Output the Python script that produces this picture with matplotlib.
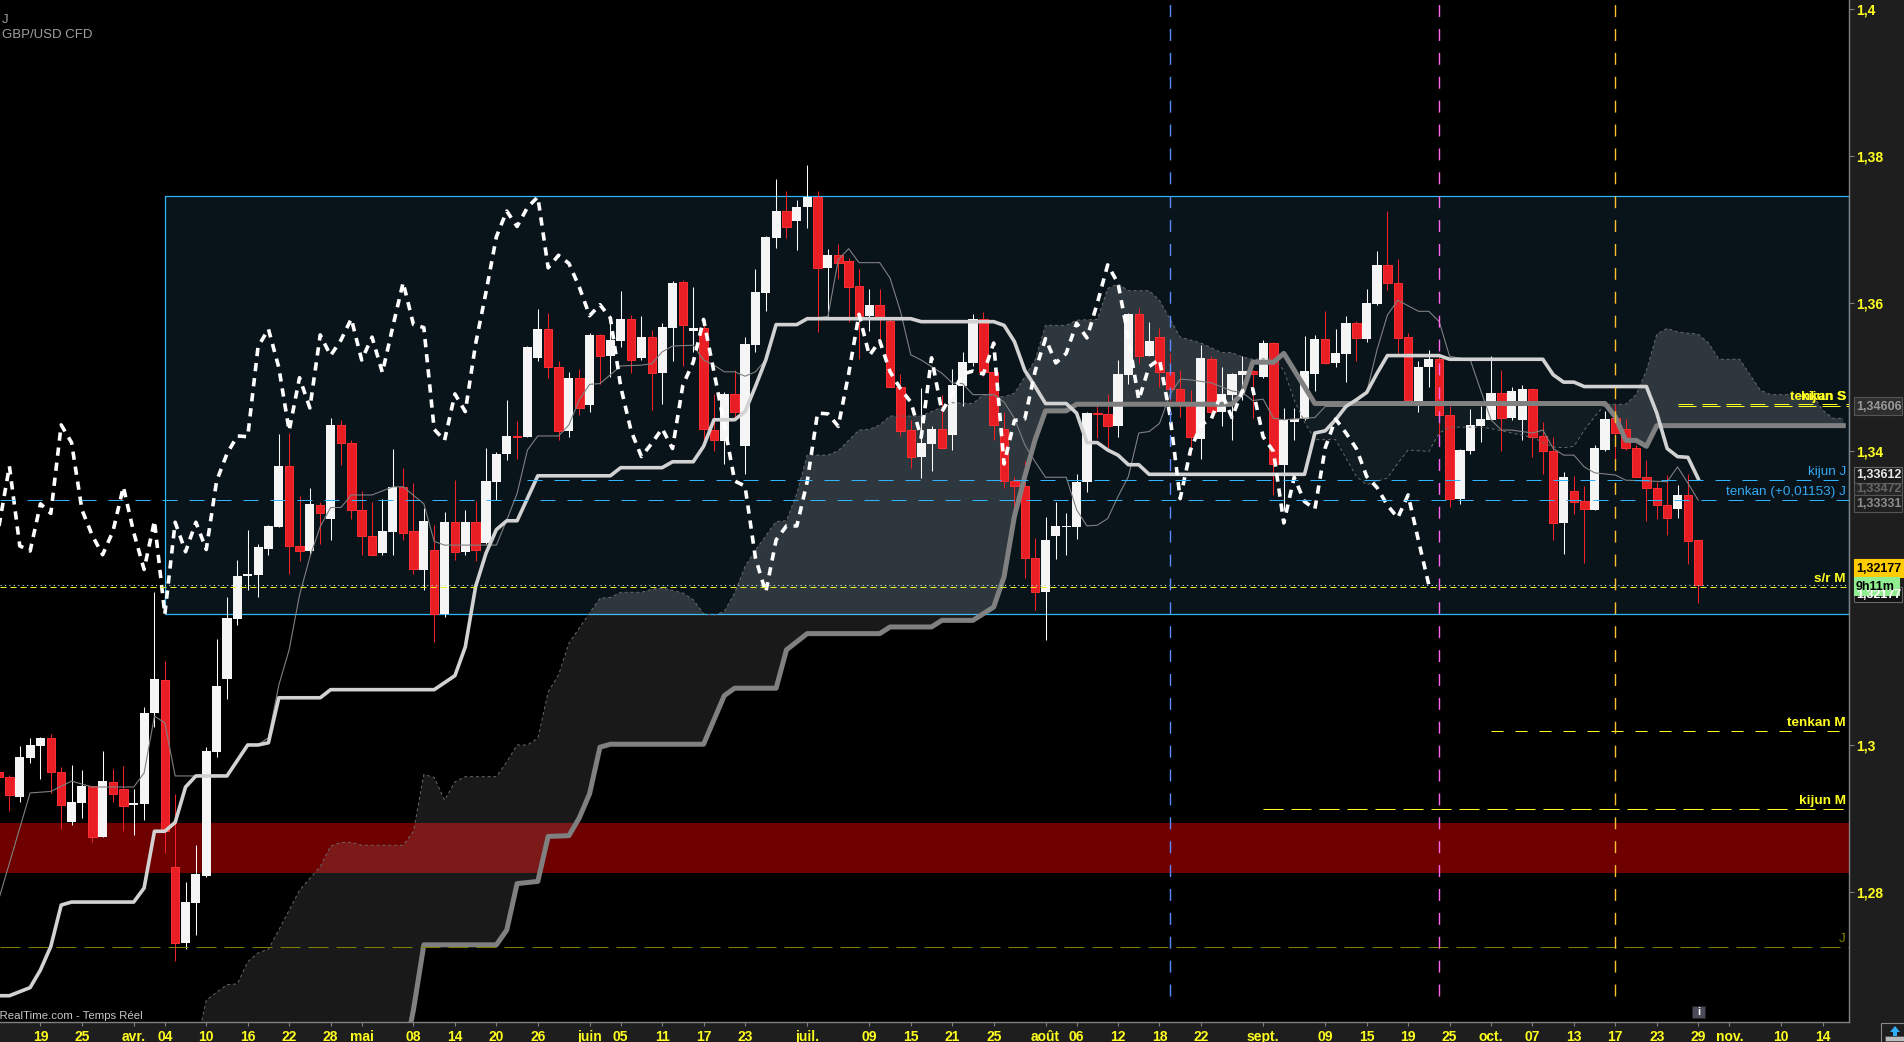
import numpy as np
import matplotlib
matplotlib.use("Agg")
import matplotlib.pyplot as plt
from matplotlib.patches import Rectangle, Polygon

plt.rcParams['font.family'] = ['Liberation Sans', 'DejaVu Sans']

# daily candles, first bar is index -1
opens = [1.2963, 1.2956, 1.2929, 1.2983, 1.2999, 1.3009, 1.2964, 1.2895, 1.2921, 1.2944,
         1.2875, 1.2950, 1.2940, 1.2919, 1.2920, 1.3043, 1.3088, 1.2835, 1.2732, 1.2786,
         1.2823, 1.2990, 1.3089, 1.3171, 1.3229, 1.3230, 1.3266, 1.3296, 1.3378, 1.3270,
         1.3263, 1.3326, 1.3306, 1.3434, 1.3410, 1.3319, 1.3284, 1.3260, 1.3289, 1.3350,
         1.3290, 1.3237, 1.3265, 1.3177, 1.3302, 1.3262, 1.3302, 1.3274, 1.3357, 1.3394,
         1.3419, 1.3418, 1.3525, 1.3564, 1.3512, 1.3426, 1.3498, 1.3461, 1.3556, 1.3528,
         1.3548, 1.3578, 1.3525, 1.3553, 1.3505, 1.3566, 1.3628, 1.3561, 1.3566, 1.3427,
         1.3412, 1.3476, 1.3405, 1.3542, 1.3613, 1.3687, 1.3724, 1.3711, 1.3729, 1.3743,
         1.3647, 1.3664, 1.3656, 1.3622, 1.3582, 1.3596, 1.3575, 1.3486, 1.3427, 1.3391,
         1.3408, 1.3429, 1.3420, 1.3487, 1.3518, 1.3577, 1.3506, 1.3429, 1.3358, 1.3351,
         1.3254, 1.3207, 1.3283, 1.3296, 1.3296, 1.3356, 1.3450, 1.3449, 1.3432, 1.3502,
         1.3584, 1.3528, 1.3553, 1.3506, 1.3483, 1.3465, 1.3415, 1.3523, 1.3452, 1.3475,
         1.3502, 1.3507, 1.3499, 1.3545, 1.3380, 1.3438, 1.3442, 1.3503, 1.3551, 1.3518,
         1.3530, 1.3572, 1.3550, 1.3598, 1.3651, 1.3627, 1.3553, 1.3466, 1.3512, 1.3523,
         1.3448, 1.3334, 1.3398, 1.3432, 1.3441, 1.3477, 1.3444, 1.3441, 1.3483, 1.3419,
         1.3399, 1.3301, 1.3345, 1.3331, 1.3319, 1.3400, 1.3443, 1.3429, 1.3402, 1.3364,
         1.3349, 1.3325, 1.3320, 1.3339, 1.3278]
highs = [1.2965, 1.2959, 1.2999, 1.3010, 1.3011, 1.3015, 1.2970, 1.2973, 1.2966, 1.2945,
         1.2992, 1.2967, 1.2972, 1.2940, 1.3051, 1.3207, 1.3114, 1.2933, 1.2814, 1.2864,
         1.2997, 1.3144, 1.3201, 1.3251, 1.3292, 1.3273, 1.3298, 1.3421, 1.3423, 1.3338,
         1.3348, 1.3330, 1.3443, 1.3441, 1.3413, 1.3344, 1.3329, 1.3334, 1.3401, 1.3375,
         1.3355, 1.3321, 1.3298, 1.3316, 1.3359, 1.3319, 1.3331, 1.3403, 1.3397, 1.3468,
         1.3439, 1.3541, 1.3591, 1.3586, 1.3520, 1.3506, 1.3510, 1.3558, 1.3557, 1.3579,
         1.3616, 1.3583, 1.3581, 1.3563, 1.3572, 1.3629, 1.3630, 1.3621, 1.3577, 1.3476,
         1.3478, 1.3509, 1.3553, 1.3646, 1.3690, 1.3768, 1.3751, 1.3739, 1.3786, 1.3751,
         1.3673, 1.3679, 1.3660, 1.3645, 1.3618, 1.3618, 1.3578, 1.3503, 1.3440, 1.3484,
         1.3433, 1.3475, 1.3510, 1.3533, 1.3585, 1.3587, 1.3511, 1.3452, 1.3363, 1.3385,
         1.3280, 1.3309, 1.3330, 1.3315, 1.3367, 1.3451, 1.3459, 1.3476, 1.3522, 1.3586,
         1.3593, 1.3573, 1.3565, 1.3531, 1.3508, 1.3481, 1.3542, 1.3527, 1.3513, 1.3504,
         1.3528, 1.3508, 1.3549, 1.3547, 1.3457, 1.3457, 1.3554, 1.3556, 1.3589, 1.3564,
         1.3582, 1.3575, 1.3618, 1.3670, 1.3724, 1.3659, 1.3558, 1.3520, 1.3536, 1.3527,
         1.3460, 1.3401, 1.3456, 1.3459, 1.3527, 1.3508, 1.3486, 1.3488, 1.3484, 1.3438,
         1.3417, 1.3370, 1.3365, 1.3351, 1.3407, 1.3453, 1.3463, 1.3442, 1.3407, 1.3386,
         1.3357, 1.3366, 1.3353, 1.3368, 1.3278]
lows = [1.2956, 1.2910, 1.2922, 1.2976, 1.2954, 1.2935, 1.2886, 1.2891, 1.2901, 1.2869,
        1.2875, 1.2922, 1.2884, 1.2878, 1.2898, 1.3025, 1.2853, 1.2707, 1.2723, 1.2742,
        1.2821, 1.2984, 1.3062, 1.3162, 1.3210, 1.3201, 1.3257, 1.3296, 1.3232, 1.3249,
        1.3257, 1.3273, 1.3278, 1.3379, 1.3307, 1.3258, 1.3258, 1.3258, 1.3258, 1.3278,
        1.3232, 1.3210, 1.3139, 1.3173, 1.3251, 1.3258, 1.3249, 1.3273, 1.3332, 1.3386,
        1.3388, 1.3417, 1.3521, 1.3498, 1.3413, 1.3417, 1.3447, 1.3452, 1.3490, 1.3499,
        1.3539, 1.3505, 1.3522, 1.3454, 1.3462, 1.3521, 1.3514, 1.3533, 1.3413, 1.3399,
        1.3381, 1.3443, 1.3367, 1.3533, 1.3588, 1.3674, 1.3688, 1.3671, 1.3701, 1.3560,
        1.3581, 1.3632, 1.3573, 1.3523, 1.3561, 1.3549, 1.3485, 1.3419, 1.3376, 1.3362,
        1.3371, 1.3401, 1.3400, 1.3460, 1.3514, 1.3500, 1.3414, 1.3348, 1.3319, 1.3227,
        1.3183, 1.3142, 1.3252, 1.3258, 1.3279, 1.3343, 1.3416, 1.3402, 1.3418, 1.3490,
        1.3518, 1.3527, 1.3486, 1.3466, 1.3445, 1.3395, 1.3388, 1.3447, 1.3433, 1.3414,
        1.3468, 1.3444, 1.3498, 1.3339, 1.3319, 1.3414, 1.3441, 1.3480, 1.3517, 1.3512,
        1.3492, 1.3521, 1.3547, 1.3596, 1.3617, 1.3532, 1.3466, 1.3451, 1.3485, 1.3419,
        1.3322, 1.3327, 1.3395, 1.3411, 1.3441, 1.3399, 1.3441, 1.3414, 1.3391, 1.3368,
        1.3278, 1.3259, 1.3313, 1.3247, 1.3318, 1.3399, 1.3386, 1.3400, 1.3363, 1.3304,
        1.3307, 1.3285, 1.3308, 1.3245, 1.3193]
closes = [1.2956, 1.2932, 1.2984, 1.3000, 1.3010, 1.2964, 1.2919, 1.2922, 1.2944, 1.2875,
          1.2951, 1.2934, 1.2917, 1.2921, 1.3044, 1.3089, 1.2884, 1.2732, 1.2787, 1.2825,
          1.2992, 1.3080, 1.3172, 1.3229, 1.3232, 1.3268, 1.3297, 1.3378, 1.3270, 1.3263,
          1.3327, 1.3314, 1.3434, 1.3410, 1.3319, 1.3284, 1.3258, 1.3290, 1.3350, 1.3288,
          1.3238, 1.3304, 1.3177, 1.3302, 1.3262, 1.3302, 1.3265, 1.3358, 1.3395, 1.3419,
          1.3418, 1.3540, 1.3564, 1.3512, 1.3426, 1.3498, 1.3457, 1.3556, 1.3528, 1.3549,
          1.3578, 1.3522, 1.3553, 1.3505, 1.3567, 1.3627, 1.3570, 1.3566, 1.3428, 1.3413,
          1.3476, 1.3452, 1.3544, 1.3614, 1.3689, 1.3724, 1.3703, 1.3729, 1.3743, 1.3647,
          1.3664, 1.3653, 1.3621, 1.3582, 1.3597, 1.3579, 1.3486, 1.3426, 1.3391, 1.3409,
          1.3429, 1.3402, 1.3488, 1.3519, 1.3577, 1.3506, 1.3434, 1.3358, 1.3351, 1.3254,
          1.3207, 1.3278, 1.3297, 1.3297, 1.3357, 1.3450, 1.3449, 1.3432, 1.3503, 1.3584,
          1.3528, 1.3548, 1.3506, 1.3483, 1.3465, 1.3417, 1.3525, 1.3452, 1.3476, 1.3503,
          1.3507, 1.3503, 1.3545, 1.3381, 1.3440, 1.3442, 1.3507, 1.3551, 1.3518, 1.3531,
          1.3572, 1.3552, 1.3599, 1.3651, 1.3626, 1.3552, 1.3468, 1.3513, 1.3523, 1.3448,
          1.3334, 1.3400, 1.3434, 1.3442, 1.3477, 1.3444, 1.3480, 1.3483, 1.3418, 1.3398,
          1.3301, 1.3363, 1.3330, 1.3320, 1.3403, 1.3442, 1.3423, 1.3402, 1.3364, 1.3349,
          1.3325, 1.3308, 1.3339, 1.3277, 1.3217]

# ichimoku lines, (bar, price) at each bend
kijun_x = [-1, 0, 2, 3, 4, 5, 6, 12, 13, 14, 15, 16, 17, 18, 21, 23, 24, 25, 26, 30, 31, 41, 43, 44, 45, 46,
           47, 48, 49, 51, 58, 59, 63, 64, 66, 67, 68, 70, 71, 72, 73, 74, 76, 77, 87, 88, 95, 96, 97, 98,
           99, 100, 102, 103, 104, 105, 106, 107, 108, 109, 110, 125, 126, 127, 128, 129, 130, 131, 132,
           133, 138, 139, 148, 149, 150, 151, 152, 158, 159, 160, 161, 162, 163]
kijun_p = [1.2660, 1.2660, 1.2671, 1.2695, 1.2727, 1.2783, 1.2787, 1.2787, 1.2806, 1.2883, 1.2883, 1.2895,
           1.2943, 1.2958, 1.2958, 1.3000, 1.3000, 1.3003, 1.3064, 1.3064, 1.3075, 1.3075, 1.3094, 1.3133,
           1.3215, 1.3260, 1.3292, 1.3304, 1.3304, 1.3365, 1.3365, 1.3376, 1.3376, 1.3384, 1.3384, 1.3405,
           1.3441, 1.3441, 1.3452, 1.3486, 1.3522, 1.3570, 1.3570, 1.3578, 1.3578, 1.3574, 1.3574, 1.3569,
           1.3547, 1.3508, 1.3486, 1.3463, 1.3463, 1.3450, 1.3410, 1.3410, 1.3400, 1.3393, 1.3380, 1.3380,
           1.3367, 1.3367, 1.3423, 1.3426, 1.3441, 1.3459, 1.3468, 1.3478, 1.3504, 1.3528, 1.3528, 1.3523,
           1.3523, 1.3502, 1.3492, 1.3492, 1.3486, 1.3486, 1.3450, 1.3402, 1.3391, 1.3390, 1.3361]

tenkan_x = [-1, 2, 4, 6, 8, 12, 13, 14, 15, 16, 21, 23, 24, 25, 26, 27, 28, 29, 30, 31, 32, 33, 35, 37, 38,
            40, 41, 42, 47, 48, 49, 50, 51, 53, 54, 55, 56, 57, 59, 61, 62, 63, 64, 66, 67, 68, 69, 70, 71,
            72, 73, 74, 76, 77, 79, 80, 81, 82, 84, 85, 86, 87, 88, 89, 90, 91, 92, 93, 95, 96, 97, 98, 99,
            100, 102, 103, 104, 105, 106, 107, 108, 109, 110, 111, 112, 113, 114, 116, 118, 119, 120, 121,
            122, 123, 124, 126, 127, 129, 130, 131, 132, 133, 134, 136, 137, 138, 139, 141, 142, 143, 144,
            145, 147, 148, 149, 150, 151, 152, 153, 155, 156, 158, 160, 161, 162, 163]
tenkan_p = [1.2792, 1.2935, 1.2937, 1.2951, 1.2943, 1.2943, 1.2962, 1.3039, 1.3030, 1.2958, 1.2958, 1.3000,
            1.3000, 1.3010, 1.3081, 1.3129, 1.3203, 1.3255, 1.3296, 1.3322, 1.3322, 1.3339, 1.3339, 1.3350,
            1.3350, 1.3327, 1.3276, 1.3271, 1.3271, 1.3305, 1.3341, 1.3400, 1.3419, 1.3419, 1.3434, 1.3468,
            1.3489, 1.3490, 1.3514, 1.3515, 1.3517, 1.3533, 1.3541, 1.3542, 1.3522, 1.3515, 1.3506, 1.3506,
            1.3500, 1.3506, 1.3522, 1.3570, 1.3570, 1.3578, 1.3581, 1.3658, 1.3673, 1.3654, 1.3654, 1.3633,
            1.3588, 1.3529, 1.3522, 1.3513, 1.3504, 1.3491, 1.3490, 1.3475, 1.3475, 1.3465, 1.3443, 1.3407,
            1.3384, 1.3363, 1.3363, 1.3319, 1.3297, 1.3298, 1.3307, 1.3337, 1.3364, 1.3423, 1.3425, 1.3436,
            1.3475, 1.3496, 1.3495, 1.3491, 1.3480, 1.3478, 1.3467, 1.3469, 1.3443, 1.3441, 1.3442, 1.3444,
            1.3459, 1.3459, 1.3468, 1.3478, 1.3536, 1.3583, 1.3603, 1.3588, 1.3588, 1.3574, 1.3527, 1.3522,
            1.3481, 1.3441, 1.3427, 1.3427, 1.3423, 1.3427, 1.3402, 1.3393, 1.3393, 1.3377, 1.3369, 1.3366,
            1.3359, 1.3358, 1.3357, 1.3377, 1.3355, 1.3332]

senkou_b_x = [18, 38, 39, 40, 47, 48, 49, 51, 52, 54, 55, 56, 57, 58, 67, 69, 70, 74, 75, 77, 84, 85, 89, 90,
              93, 95, 96, 97, 98, 99, 100, 102, 103, 118, 119, 120, 122, 123, 126, 154, 155, 156, 157, 158,
              159, 177]
senkou_b_p = [1.2400, 1.2570, 1.2641, 1.2729, 1.2729, 1.2749, 1.2812, 1.2815, 1.2876, 1.2877, 1.2901, 1.2934,
              1.2997, 1.3001, 1.3001, 1.3067, 1.3077, 1.3077, 1.3129, 1.3151, 1.3151, 1.3160, 1.3160, 1.3169,
              1.3169, 1.3187, 1.3228, 1.3310, 1.3364, 1.3414, 1.3453, 1.3453, 1.3462, 1.3462, 1.3477, 1.3519,
              1.3519, 1.3531, 1.3463, 1.3463, 1.3445, 1.3413, 1.3413, 1.3405, 1.3433, 1.3433]

senkou_a_x = [18, 19, 21, 22, 23, 24, 25, 26, 28, 30, 31, 32, 33, 34, 38, 39, 40, 41, 42, 43, 44, 47, 48, 49,
              50, 51, 52, 53, 54, 56, 57, 58, 59, 61, 62, 63, 65, 66, 67, 68, 69, 70, 71, 72, 74, 75, 76, 77,
              79, 80, 82, 83, 84, 85, 88, 91, 93, 94, 96, 97, 98, 99, 100, 102, 103, 105, 106, 107, 108, 110,
              111, 113, 115, 117, 118, 119, 120, 122, 123, 124, 125, 126, 128, 130, 131, 133, 134, 135, 137,
              138, 139, 142, 143, 146, 147, 149, 150, 151, 152, 153, 154, 156, 157, 158, 159, 160, 161, 163,
              164, 165, 167, 169, 170, 174, 175, 176, 177]
senkou_a_p = [1.2590, 1.2654, 1.2675, 1.2676, 1.2706, 1.2718, 1.2723, 1.2749, 1.2803, 1.2835, 1.2863, 1.2868,
              1.2868, 1.2864, 1.2864, 1.2883, 1.2960, 1.2956, 1.2925, 1.2950, 1.2957, 1.2957, 1.2977, 1.3000,
              1.3000, 1.3009, 1.3072, 1.3095, 1.3138, 1.3179, 1.3199, 1.3200, 1.3207, 1.3207, 1.3211, 1.3213,
              1.3206, 1.3197, 1.3178, 1.3176, 1.3181, 1.3206, 1.3242, 1.3264, 1.3303, 1.3304, 1.3341, 1.3393,
              1.3393, 1.3399, 1.3427, 1.3428, 1.3434, 1.3446, 1.3446, 1.3464, 1.3463, 1.3475, 1.3472, 1.3477,
              1.3499, 1.3522, 1.3569, 1.3569, 1.3576, 1.3577, 1.3619, 1.3625, 1.3616, 1.3616, 1.3603, 1.3553,
              1.3545, 1.3532, 1.3532, 1.3526, 1.3523, 1.3524, 1.3508, 1.3468, 1.3438, 1.3414, 1.3414, 1.3364,
              1.3353, 1.3362, 1.3382, 1.3400, 1.3398, 1.3423, 1.3431, 1.3431, 1.3429, 1.3420, 1.3417, 1.3404,
              1.3403, 1.3405, 1.3427, 1.3445, 1.3462, 1.3462, 1.3475, 1.3508, 1.3557, 1.3565, 1.3560, 1.3557,
              1.3545, 1.3523, 1.3523, 1.3481, 1.3475, 1.3475, 1.3454, 1.3443, 1.3443]

yticks = [1.28, 1.30, 1.34, 1.36, 1.38, 1.40]
ylabels = ["1,28", "1,3", "1,34", "1,36", "1,38", "1,4"]
xticks = [3, 7, 12, 15, 19, 23, 27, 31, 34, 39, 43, 47, 51, 56, 59, 63, 67, 71, 77, 83, 87, 91, 95, 100, 103,
          107, 111, 115, 121, 127, 131, 135, 139, 143, 147, 151, 155, 159, 163, 166, 171, 175]
xlabels = ["19", "25", "avr.", "04", "10", "16", "22", "28", "mai", "08", "14", "20", "26", "juin", "05",
           "11", "17", "23", "juil.", "09", "15", "21", "25", "août", "06", "12", "18", "22", "sept.", "09",
           "15", "19", "25", "oct.", "07", "13", "17", "23", "29", "nov.", "10", "14"]


def to_axis(v):
    # le tout a été lu à 7375 px/unité alors que l'axe fait 7360
    return 1.30 + (np.asarray(v) - 1.30) * 7375 / 7360


bars = np.arange(-1, 164)
o, h, l, c = to_axis(opens), to_axis(highs), to_axis(lows), to_axis(closes)
up = c >= o

W, H = 1904, 1042
fig = plt.figure(figsize=(W / 100, H / 100), dpi=100, facecolor='#1e1e1e')
ax = fig.add_axes([0, 20 / H, 1849 / W, 1022 / H], facecolor='black')
ax.set_xlim(-0.907, 177.55)
ax.set_ylim(1.26236, 1.40122)

# boite bleue + bande rouge
box = Rectangle((15, 1.3178), 177.55 - 15, 1.37455 - 1.3178, facecolor='#08131a', edgecolor='#2fb4f5',
                linewidth=0.9, zorder=1)
ax.add_patch(box)
ax.axhspan(1.2826, 1.2894, color='#6e0000', linewidth=0, zorder=1.5)

# nuage
grid = np.arange(18, 177.01, 0.25)
span_a = np.interp(grid, senkou_a_x, to_axis(senkou_a_p))
span_b = np.interp(grid, senkou_b_x, to_axis(senkou_b_p))
ax.fill_between(grid, span_a, span_b, where=span_a >= span_b, interpolate=True, color='white', alpha=0.10,
                linewidth=0, zorder=2)
inside = ax.fill_between(grid, span_a, span_b, where=span_a >= span_b, interpolate=True, color='white',
                         alpha=0.06, linewidth=0, zorder=2)
inside.set_clip_path(box)
ax.fill_between(grid, span_a, span_b, where=span_a < span_b, interpolate=True, color='white', alpha=0.035,
                linewidth=0, zorder=2)

# chandeliers
ax.vlines(bars[up], l[up], h[up], color='white', linewidth=0.75, zorder=3)
ax.vlines(bars[~up], l[~up], h[~up], color='#ee2226', linewidth=0.75, zorder=3)
ax.bar(bars[up], (c - o)[up], bottom=o[up], width=0.88, color='#f5f5f5', linewidth=0, zorder=4)
ax.bar(bars[~up], (o - c)[~up], bottom=c[~up], width=0.82, color='#e81e24', edgecolor='#ff3033', linewidth=0.7,
       zorder=4)

# lignes ichimoku
ax.plot(senkou_a_x, to_axis(senkou_a_p), color='#6a6a6a', linewidth=0.7, linestyle=(0, (3, 3)), zorder=5)
ax.plot(tenkan_x, to_axis(tenkan_p), color='#808080', linewidth=0.8, zorder=5)
ax.plot(senkou_b_x, to_axis(senkou_b_p), color='#808080', linewidth=3.6, solid_joinstyle='round', zorder=6)
ax.plot(kijun_x, to_axis(kijun_p), color='#d2d2d2', linewidth=2.6, solid_joinstyle='round', zorder=6)
# chikou = cloture décalée de 26 barres
ax.plot(bars[:-26], c[26:], color='white', linewidth=2.6, linestyle=(0, (2.3, 1.9)), dash_capstyle='butt', zorder=7)


def hline(price, x0, x1, color, on, off):
    ax.plot([x0, x1], [price, price], color=color, linewidth=0.72, linestyle=(0, (on, off)), zorder=8)


x_end = 177.55
hline(1.3360, 50, x_end, '#2fb4ff', 15, 12)
hline(1.33325, -0.9, x_end, '#2fb4ff', 15, 12)
hline(1.32147, -0.9, x_end, '#f0f020', 6, 4)
ax.axhline(1.3217, color='#b0e8e0', linewidth=0.8, linestyle=(0, (1, 3)), zorder=8)
hline(1.2725, -0.9, x_end, '#808000', 20, 8)
hline(1.3019, 143, 177.6, '#ffff20', 12, 12)
hline(1.2913, 121, 177, '#ffff20', 20, 8)
hline(1.3463, 161, x_end, '#ffff20', 15, 9)
hline(1.3461, 161, x_end, '#ffff20', 18, 6)

# verticales
for bar, col in zip([112, 138, 155], ['#5a8cff', '#ff66ee', '#ffc030']):
    ax.plot([bar, bar], [1.2659, 1.4012], color=col, linewidth=1.0, linestyle=(0, (8.6, 8.6)), zorder=8)

# axes
for s in ['left', 'top']:
    ax.spines[s].set_visible(False)
for s in ['right', 'bottom']:
    ax.spines[s].set_color('#808080')
    ax.spines[s].set_linewidth(1.0)
ax.yaxis.tick_right()
ax.set_yticks(yticks)
ax.set_yticklabels(ylabels)
ax.set_xticks(xticks)
ax.set_xticklabels(xlabels)
ax.tick_params(axis='y', colors='#ffff20', length=3.4, width=0.8, pad=2, labelsize=10, color='#808080')
ax.tick_params(axis='x', colors='#ffff20', length=3, width=0.8, pad=2.5, labelsize=10, color='#808080')
for t in ax.get_xticklabels() + ax.get_yticklabels():
    t.set_fontweight('bold')

# couche pixels pour les textes et étiquettes
top = fig.add_axes([0, 0, 1, 1], facecolor='none')
top.set_xlim(0, W)
top.set_ylim(H, 0)
top.axis('off')

top.text(2, 20, "J", color='#a0a0a0', fontsize=9.5, va='center')
top.text(2, 35, "GBP/USD CFD", color='#a0a0a0', fontsize=9.5, va='center')
top.text(143, 1016, "ProRealTime.com - Temps Réel", color='#c8c8c8', fontsize=8.2, ha='right', va='center')

for txt, y, col, weight in [("kijun S", 397, '#ffff20', 'bold'), ("tenkan S", 397, '#ffff20', 'bold'),
                            ("kijun J", 472, '#35a8f0', 'normal'), ("tenkan (+0,01153) J", 492, '#35a8f0', 'normal'),
                            ("s/r M", 579, '#ffff20', 'bold'), ("tenkan M", 723, '#ffff20', 'bold'),
                            ("kijun M", 801, '#ffff20', 'bold'), ("J", 939, '#808000', 'normal')]:
    top.text(1846, y, txt, color=col, fontsize=9.7, fontweight=weight, ha='right', va='center', zorder=5)

# étiquettes de prix à droite
tags = [("1,32177", 587, 602, '#111111', 'white', '#666666', 1902),
        ("1,34606", 397, 415, '#2e2e2e', '#999999', '#555555', 1902),
        ("1,33612", 467, 483, '#1c1c1c', '#e8e8e8', '#666666', 1902),
        ("1,33472", 483, 495, '#262626', '#666666', '#555555', 1902),
        ("1,33331", 495, 512, '#202020', '#8c8c8c', '#555555', 1902),
        ("1,32177", 559, 577, '#ffcc00', 'black', '#ffcc00', 1904),
        ("9h11m", 577, 595, '#90ee90', 'black', '#90ee90', 1899)]
for txt, y0, y1, bg, fg, edge, x1 in tags:
    top.add_patch(Rectangle((1854, y0), x1 - 1854, y1 - y0, facecolor=bg, edgecolor=edge, linewidth=0.8, zorder=6))
    top.text(1856, (y0 + y1) / 2 + 0.5, txt, color=fg, fontsize=9, fontweight='bold',
             va='center', ha='left', clip_on=True, zorder=7)

# petites icones
top.add_patch(Rectangle((1692, 1006), 13, 12, facecolor='#4a4a58', edgecolor='#222222', linewidth=0.5, zorder=6))
top.text(1698.5, 1012, "i", color='white', fontsize=8, fontweight='bold', ha='center', va='center', zorder=7)
top.add_patch(Rectangle((1881, 1023), 25, 22, facecolor='#1e1e1e', edgecolor='#888888', linewidth=0.8, zorder=6))
top.add_patch(Polygon([[1895, 1026], [1890, 1032], [1893, 1032], [1893, 1036], [1897, 1036], [1897, 1032], [1900, 1032]],
                      closed=True, facecolor='#30b0ff', edgecolor='none', zorder=7))
top.add_patch(Rectangle((1885, 1036), 19, 5, facecolor='#bbbbbb', edgecolor='#444444', linewidth=0.5, zorder=7))

fig.savefig("out.png", dpi=100, facecolor=fig.get_facecolor())
